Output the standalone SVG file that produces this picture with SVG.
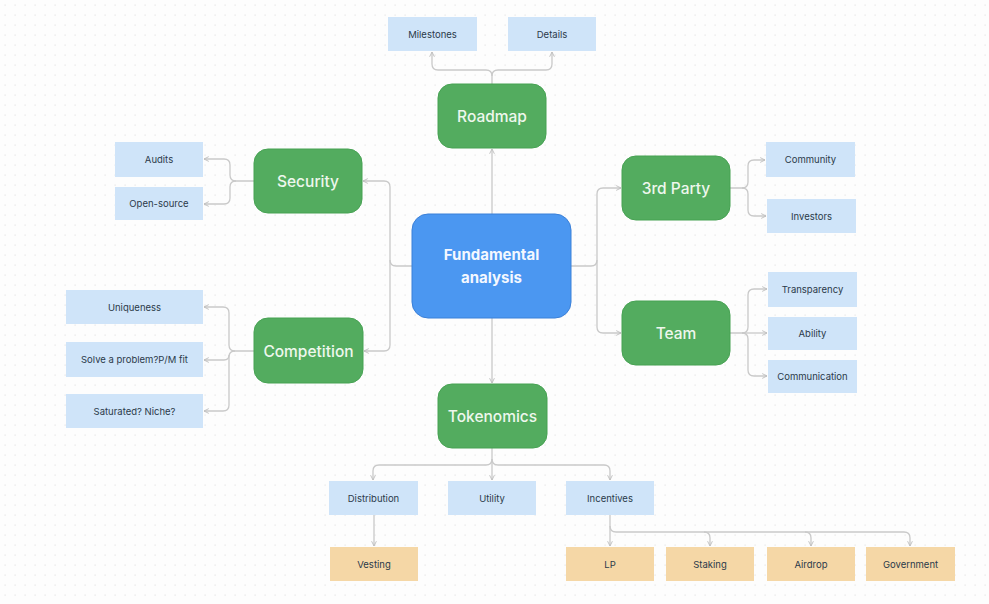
<svg xmlns="http://www.w3.org/2000/svg" width="989" height="604" viewBox="0 0 989 604">
<defs>
<pattern id="dots" x="0" y="0" width="10" height="10" patternUnits="userSpaceOnUse">
<rect x="4.5" y="4.5" width="1.2" height="1.2" fill="#e3e3e3"/>
</pattern>
<marker id="arr" viewBox="0 0 10 10" refX="9" refY="5" markerWidth="6" markerHeight="6" orient="auto-start-reverse" markerUnits="userSpaceOnUse">
<path d="M1,1 L9,5 L1,9" fill="none" stroke="#bdbdbd" stroke-width="1.5"/>
</marker>
<style>
.c{fill:none;stroke:#c9c9c9;stroke-width:1.3}
.a{marker-end:url(#arr)}
.g rect{fill:#53ac5f;stroke:#47a253;stroke-width:1}
.g text{font-family:Inter,"Liberation Sans",sans-serif;font-size:15.5px;font-weight:500;fill:#eef7ed;text-anchor:middle}
.b rect{fill:#cfe4f9}
.o rect{fill:#f5d7a6}
.b text,.o text{font-family:Inter,"Liberation Sans",sans-serif;font-size:9.5px;fill:#2b3a4a;text-anchor:middle}
.m rect{fill:#4b97f1;stroke:#3b80d8;stroke-width:1}
.m text{font-family:Inter,"Liberation Sans",sans-serif;font-size:15px;font-weight:bold;fill:#f4f8ff;text-anchor:middle}
</style>
</defs>
<rect width="989" height="604" fill="#fdfdfd"/>
<rect width="989" height="604" fill="url(#dots)"/>

<g id="connectors">
<path class="c a" d="M492,214 V149"/>
<path class="c a" d="M492,84 V76 Q492,70 486,70 H438 Q432,70 432,64 V52"/>
<path class="c a" d="M492,76 Q492,70 498,70 H546 Q552,70 552,64 V52"/>
<path class="c a" d="M412,266 H396 Q390,266 390,260 V187 Q390,181 384,181 H363"/>
<path class="c a" d="M390,260 V345 Q390,351 384,351 H364"/>
<path class="c a" d="M254,181 H236 Q230,181 230,175 V165 Q230,159 224,159 H204"/>
<path class="c a" d="M236,181 Q230,181 230,187 V198 Q230,204 224,204 H204"/>
<path class="c a" d="M254,351 H235 Q229,351 229,345 V313 Q229,307 223,307 H204"/>
<path class="c a" d="M235,351 Q229,351 229,357 V405 Q229,411 223,411 H204"/>
<path class="c a" d="M229,355 Q229,360 224,360 H204"/>
<path class="c a" d="M571,266 H591 Q597,266 597,260 V194 Q597,188 603,188 H621"/>
<path class="c a" d="M597,260 V327 Q597,333 603,333 H621"/>
<path class="c a" d="M730,188 H742 Q748,188 748,182 V166 Q748,160 754,160 H765"/>
<path class="c a" d="M742,188 Q748,188 748,194 V210 Q748,216 754,216 H766"/>
<path class="c a" d="M730,333 H742 Q748,333 748,327 V295 Q748,289 754,289 H767"/>
<path class="c a" d="M742,333 H767"/>
<path class="c a" d="M742,333 Q748,333 748,339 V370 Q748,376 754,376 H767"/>
<path class="c a" d="M492,318 V383"/>
<path class="c a" d="M492,448 V480"/>
<path class="c a" d="M492,459 Q492,465 486,465 H379 Q373,465 373,471 V480"/>
<path class="c a" d="M492,459 Q492,465 498,465 H604 Q610,465 610,471 V480"/>
<path class="c a" d="M374,515 V546"/>
<path class="c a" d="M610,515 V546"/>
<path class="c a" d="M610,526 Q610,532 616,532 H704 Q710,532 710,538 V546"/>
<path class="c a" d="M704,532 H805 Q811,532 811,538 V546"/>
<path class="c a" d="M805,532 H904 Q910,532 910,538 V546"/>
</g>

<g id="fundamental" class="m"><rect x="412" y="214" width="159" height="104" rx="16"/><text x="491.5" y="260">Fundamental</text><text x="491.5" y="283">analysis</text></g>

<g id="roadmap" class="g"><rect x="438" y="84" width="108" height="64" rx="14"/><text x="492" y="122">Roadmap</text></g>
<g id="security" class="g"><rect x="254" y="149" width="108" height="64" rx="14"/><text x="308" y="187">Security</text></g>
<g id="competition" class="g"><rect x="254" y="318" width="109" height="65" rx="14"/><text x="308.5" y="357">Competition</text></g>
<g id="thirdparty" class="g"><rect x="622" y="156" width="108" height="64" rx="14"/><text x="676" y="194">3rd Party</text></g>
<g id="team" class="g"><rect x="622" y="301" width="108" height="64" rx="14"/><text x="676" y="339">Team</text></g>
<g id="tokenomics" class="g"><rect x="438" y="384" width="109" height="64" rx="14"/><text x="492.5" y="422">Tokenomics</text></g>

<g id="milestones" class="b"><rect x="388" y="17" width="89" height="34"/><text x="432.5" y="37.5">Milestones</text></g>
<g id="details" class="b"><rect x="508" y="17" width="88" height="34"/><text x="552" y="37.5">Details</text></g>
<g id="audits" class="b"><rect x="115" y="142" width="88" height="35"/><text x="159" y="163">Audits</text></g>
<g id="opensource" class="b"><rect x="115" y="187" width="88" height="33"/><text x="159" y="207">Open-source</text></g>
<g id="uniqueness" class="b"><rect x="66" y="290" width="137" height="34"/><text x="134.5" y="311">Uniqueness</text></g>
<g id="solve" class="b"><rect x="66" y="342" width="137" height="35"/><text x="134.5" y="363">Solve a problem?P/M fit</text></g>
<g id="saturated" class="b"><rect x="66" y="394" width="137" height="34"/><text x="134.5" y="415">Saturated? Niche?</text></g>
<g id="community" class="b"><rect x="766" y="142" width="89" height="35"/><text x="810.5" y="163">Community</text></g>
<g id="investors" class="b"><rect x="767" y="199" width="89" height="34"/><text x="811.5" y="220">Investors</text></g>
<g id="transparency" class="b"><rect x="768" y="272" width="89" height="35"/><text x="812.5" y="293">Transparency</text></g>
<g id="ability" class="b"><rect x="768" y="317" width="89" height="33"/><text x="812.5" y="337">Ability</text></g>
<g id="communication" class="b"><rect x="768" y="360" width="89" height="33"/><text x="812.5" y="380">Communication</text></g>
<g id="distribution" class="b"><rect x="329" y="481" width="89" height="34"/><text x="373.5" y="502">Distribution</text></g>
<g id="utility" class="b"><rect x="448" y="481" width="88" height="34"/><text x="492" y="502">Utility</text></g>
<g id="incentives" class="b"><rect x="566" y="481" width="88" height="34"/><text x="610" y="502">Incentives</text></g>

<g id="vesting" class="o"><rect x="330" y="547" width="88" height="34"/><text x="374" y="568">Vesting</text></g>
<g id="lp" class="o"><rect x="566" y="547" width="88" height="34"/><text x="610" y="568">LP</text></g>
<g id="staking" class="o"><rect x="666" y="547" width="88" height="34"/><text x="710" y="568">Staking</text></g>
<g id="airdrop" class="o"><rect x="767" y="547" width="88" height="34"/><text x="811" y="568">Airdrop</text></g>
<g id="government" class="o"><rect x="866" y="547" width="89" height="34"/><text x="910.5" y="568">Government</text></g>
</svg>
